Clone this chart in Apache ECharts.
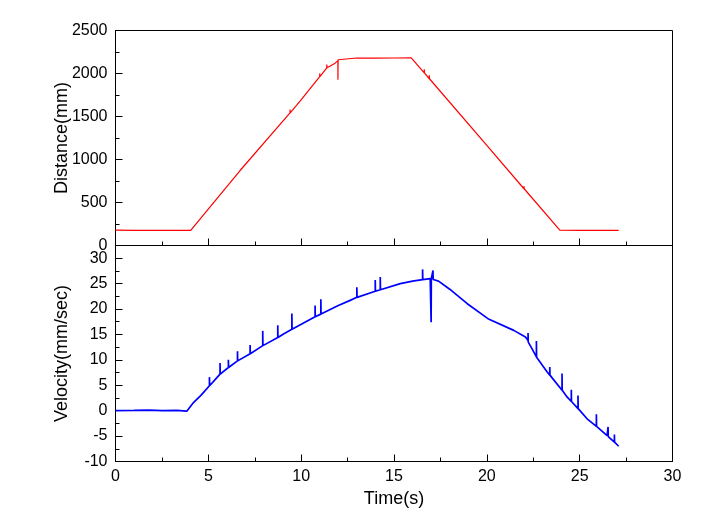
<!DOCTYPE html>
<html>
<head>
<meta charset="utf-8">
<script src="https://cdn.jsdelivr.net/npm/echarts@6/dist/echarts.min.js"></script>
<style>html,body{margin:0;padding:0;background:#fff}#c{width:705px;height:520px}</style>
</head>
<body>
<div id="c"></div>
<script>
// Time axis ticks (s)
var timeTicks = [0, 5, 10, 15, 20, 25, 30];
var distanceTicks = [0, 500, 1000, 1500, 2000, 2500];
var velocityTicks = [-10, -5, 0, 5, 10, 15, 20, 25, 30];

// Distance (mm) vs time (s) (spikes as repeated times)
var distTime = [0, 1, 2, 3, 4.05, 6.71, 9.4, 9.4, 9.41, 9.94, 11.0, 11.0, 11.01, 11.38, 11.38, 11.39, 11.83, 11.98, 11.98, 11.99, 12.06, 13, 14, 15, 15.93, 16.63, 16.63, 16.64, 16.9, 16.9, 16.91, 20.0, 22.0, 22.0, 22.01, 23.93, 25, 26, 27.1];
var distance = [178, 175, 177, 175, 175, 872, 1543, 1580, 1543, 1678, 1964, 2000, 1964, 2066, 2105, 2066, 2120, 2150, 1927, 2160, 2182, 2180, 2178, 2180, 2182, 2006, 2050, 2006, 1939, 1980, 1939, 1163, 660, 690, 660, 178, 175, 176, 176];

// Velocity (mm/sec) vs time (s) (spikes as repeated times)
var velTime = [0, 1, 1.8, 1.85, 2.5, 3.3, 3.84, 4.2, 4.6, 5.06, 5.06, 5.07, 5.46, 5.63, 5.63, 5.64, 6.08, 6.08, 6.09, 6.57, 6.57, 6.58, 7.25, 7.25, 7.26, 7.93, 7.93, 7.94, 8.74, 8.74, 8.75, 9.05, 9.5, 9.5, 9.51, 10.75, 10.75, 10.76, 11.06, 11.06, 11.07, 12.0, 12.64, 13.0, 13.0, 13.01, 13.99, 13.99, 14.0, 14.26, 14.26, 14.27, 15.34, 16.0, 16.54, 16.54, 16.55, 16.95, 17.0, 17.0, 17.01, 17.1, 17.1, 17.11, 17.4, 18.0, 18.93, 20.06, 21.45, 22.08, 22.22, 22.22, 22.23, 22.4, 22.67, 22.67, 22.68, 23.25, 23.39, 23.39, 23.4, 24.05, 24.05, 24.06, 24.32, 24.55, 24.55, 24.56, 24.91, 24.91, 24.92, 25.4, 25.9, 25.9, 25.91, 26.48, 26.53, 26.53, 26.54, 26.87, 26.87, 26.88, 27.1];
var velocity = [0, 0.05, 0.1, 0, 0, 0.05, -0.1, 1.6, 3.0, 4.9, 6.6, 4.9, 6.5, 7.2, 9.4, 7.2, 8.5, 10.0, 8.5, 9.8, 11.7, 9.8, 11.2, 12.9, 11.2, 12.8, 15.7, 12.8, 14.4, 16.8, 14.4, 15.1, 16.0, 19.1, 16.0, 18.5, 20.7, 18.5, 19.0, 21.9, 19.0, 20.7, 21.7, 22.3, 24.3, 22.3, 23.5, 25.7, 23.5, 23.8, 26.3, 23.8, 25.0, 25.5, 25.8, 27.8, 25.8, 26.0, 26.0, 17.4, 26.0, 26.0, 27.6, 25.8, 25.5, 23.9, 21.1, 18.1, 15.8, 14.5, 13.8, 15.3, 13.5, 12.4, 10.6, 13.7, 10.5, 7.6, 7.0, 8.6, 7.0, 4.0, 7.3, 4.0, 2.7, 1.8, 4.1, 1.8, 0.4, 3.0, 0.4, -1.6, -3.1, -0.7, -3.1, -4.9, -5.1, -3.2, -5.1, -6.2, -4.7, -6.2, -7.0];

function pairs(xs, ys) { return xs.map(function (x, i) { return [x, ys[i]]; }); }

var FONT = "'Liberation Sans', Arial, sans-serif";
var black = '#000';

function xAxisCfg(gridIndex, showLabels) {
  return {
    type: 'value', gridIndex: gridIndex, min: timeTicks[0], max: timeTicks[timeTicks.length - 1], interval: 5,
    axisLine: { show: true, onZero: false, lineStyle: { color: black, width: 1 } },
    axisTick: { show: true, inside: true, length: 7, lineStyle: { color: black } },
    minorTick: { show: true, splitNumber: 2, length: 4, lineStyle: { color: black } },
    splitLine: { show: false },
    axisLabel: { show: showLabels, color: black, fontFamily: FONT, fontSize: 16, margin: 7,
      formatter: function (v) { return String(v); } },
    name: showLabels ? 'Time(s)' : '', nameLocation: 'middle', nameGap: 29,
    nameTextStyle: { color: black, fontFamily: FONT, fontSize: 18 }
  };
}

function yAxisCfg(gridIndex, minV, maxV, step, ticks, title) {
  return {
    type: 'value', gridIndex: gridIndex, min: minV, max: maxV, interval: step,
    axisLine: { show: true, onZero: false, lineStyle: { color: black } },
    axisTick: { show: true, inside: true, length: 7, lineStyle: { color: black } },
    minorTick: { show: true, splitNumber: 2, length: 4, lineStyle: { color: black } },
    splitLine: { show: false },
    axisLabel: {
      color: black, fontFamily: FONT, fontSize: 16, margin: 8,
      formatter: function (v) { return ticks.indexOf(v) >= 0 ? String(v) : ''; }
    },
    name: title, nameLocation: 'middle', nameGap: 44, nameRotate: 90, nameMoveOverlap: false,
    nameTextStyle: { color: black, fontFamily: FONT, fontSize: 18 }
  };
}

var chart = echarts.init(document.getElementById('c'), null, { renderer: 'canvas' });
chart.setOption({
  animation: false,
  backgroundColor: '#fff',
  grid: [
    { left: 115.5, right: 32.5, top: 30.5, height: 215, show: true, borderColor: black, borderWidth: 1, backgroundColor: 'transparent' },
    { left: 115.5, right: 32.5, top: 245.5, height: 216, show: true, borderColor: black, borderWidth: 1, backgroundColor: 'transparent' }
  ],
  xAxis: [xAxisCfg(0, false), xAxisCfg(1, true)],
  yAxis: [
    yAxisCfg(0, distanceTicks[0], distanceTicks[distanceTicks.length - 1], 500, distanceTicks, 'Distance(mm)'),
    yAxisCfg(1, velocityTicks[0], 32.5, 5, velocityTicks, 'Velocity(mm/sec)')
  ],
  series: [
    {
      type: 'line', xAxisIndex: 0, yAxisIndex: 0, data: pairs(distTime, distance),
      showSymbol: false, symbol: 'none', lineStyle: { color: '#ff0000', width: 1.2 }, z: 3
    },
    {
      type: 'line', xAxisIndex: 1, yAxisIndex: 1, data: pairs(velTime, velocity),
      showSymbol: false, symbol: 'none', lineStyle: { color: '#0000ff', width: 1.7 }, z: 3
    }
  ]
});
</script>
</body>
</html>
